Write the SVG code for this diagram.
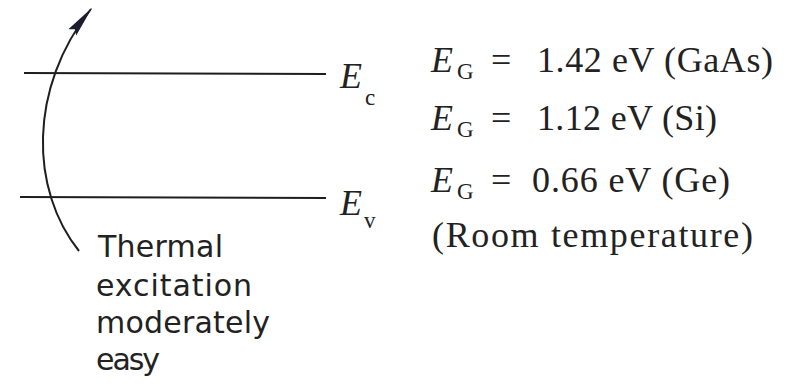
<svg xmlns="http://www.w3.org/2000/svg" width="788" height="387" viewBox="0 0 788 387">
<style>
.lvl{stroke:#1e1e1e;stroke-width:2.2;fill:none}
.m{font-family:"Liberation Serif",serif;font-size:36px;fill:#222}
.i{font-style:italic}
.sub{font-family:"Liberation Serif",serif;font-size:23px;fill:#222}
.s{font-family:"DejaVu Sans","Liberation Sans",sans-serif;font-size:30px;fill:#222}
</style>
<defs>
<marker id="ah" markerWidth="32" markerHeight="12" refX="30" refY="6" orient="auto" markerUnits="userSpaceOnUse" viewBox="0 0 32 12">
<path d="M0,1 L32,6 L0,11 L4,6 Z" fill="#1c1c2e"/>
</marker>
</defs>
<rect width="788" height="387" fill="#fff"/>
<g id="connectors">
<path class="lvl" d="M79,251 C30,190 28,88 91,9" marker-end="url(#ah)" style="stroke-width:2"/>
</g>
<g id="Ec">
<line class="lvl" x1="24" y1="73" x2="326" y2="74"/>
<text class="m i" x="340" y="88">E</text>
<text class="sub" x="365" y="105">c</text>
</g>
<g id="Ev">
<line class="lvl" x1="20" y1="197" x2="326" y2="198"/>
<text class="m i" x="340" y="215">E</text>
<text class="sub" x="364" y="228">v</text>
</g>
<g id="values">
<text class="m i" x="431" y="72">E</text><text class="sub" x="457" y="79">G</text>
<text class="m" x="491" y="72">=</text>
<text class="m" x="537" y="72" textLength="236" lengthAdjust="spacing">1.42 eV (GaAs)</text>
<text class="m i" x="431" y="130">E</text><text class="sub" x="457" y="137">G</text>
<text class="m" x="491" y="130">=</text>
<text class="m" x="537" y="130" textLength="180" lengthAdjust="spacing">1.12 eV (Si)</text>
<text class="m i" x="431" y="192">E</text><text class="sub" x="457" y="199">G</text>
<text class="m" x="491" y="192">=</text>
<text class="m" x="532" y="192" textLength="198" lengthAdjust="spacing">0.66 eV (Ge)</text>
<text class="m" x="432" y="247" textLength="321" lengthAdjust="spacing">(Room temperature)</text>
</g>
<g id="note">
<text class="s" x="98" y="257" textLength="125" lengthAdjust="spacing">Thermal</text>
<text class="s" x="96" y="296" textLength="156" lengthAdjust="spacing">excitation</text>
<text class="s" x="96" y="333" textLength="174" lengthAdjust="spacing">moderately</text>
<text class="s" x="96" y="370" textLength="64" lengthAdjust="spacing">easy</text>
</g>
</svg>
